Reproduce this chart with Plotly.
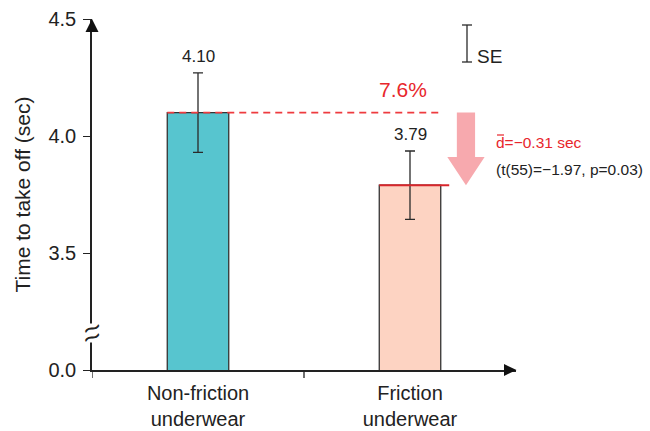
import plotly.graph_objects as go

# ---- data ----
categories = ["Non-friction<br>underwear", "Friction<br>underwear"]
means = [4.10, 3.79]
se = [0.17, 0.146]
value_labels = ["4.10", "3.79"]
bar_colors = ["#57c5cf", "#fdd3c2"]
y_tickvals = [3.0, 3.5, 4.0, 4.5]
y_ticktext = ["0.0", "3.5", "4.0", "4.5"]
t_stat_text = "(t(55)=\u22121.97, p=0.03)"

FONT = "Liberation Sans, Arial, sans-serif"
BW = 0.29
diff = means[1] - means[0]
pct = abs(diff) / means[0] * 100

fig = go.Figure()
fig.add_trace(go.Bar(
    x=[0, 1], y=means, width=BW,
    marker=dict(color=bar_colors, line=dict(color="#333333", width=1.3)),
    error_y=dict(type="data", array=se, color="#2a2a2a", thickness=1.3, width=5),
    hoverinfo="skip", showlegend=False,
))

shapes = []
ann = []

W, H = 424.0, 351.0
def px(x):
    return (x - 92) / W
def py(y):
    return (370 - y) / H

# value labels above error bars
for i, (m, s, lab) in enumerate(zip(means, se, value_labels)):
    ann.append(dict(x=i, y=m + s, text=lab, showarrow=False, yanchor="bottom", yshift=5,
                    font=dict(family=FONT, size=17, color="#222222")))

# red dashed reference line at first mean
shapes.append(dict(type="line", xref="x", yref="y", x0=-BW / 2, x1=1 + BW / 2 + 0.005,
                   y0=means[0], y1=means[0], line=dict(color="#ee3b3f", width=1.6, dash="7px,5px")))
# red solid line at second bar top
shapes.append(dict(type="line", xref="x", yref="y", x0=1 - BW / 2, x1=1 + BW / 2 + 0.04,
                   y0=means[1], y1=means[1], line=dict(color="#d8262c", width=2)))

# pink arrow from mean0 down to mean1
xc = 1.264
sh_w = 0.043
hd_w = 0.088
head_len = 0.12
p = (f"M {xc - sh_w} {means[0]} L {xc + sh_w} {means[0]} L {xc + sh_w} {means[1] + head_len} "
     f"L {xc + hd_w} {means[1] + head_len} L {xc} {means[1]} L {xc - hd_w} {means[1] + head_len} "
     f"L {xc - sh_w} {means[1] + head_len} Z")
shapes.append(dict(type="path", xref="x", yref="y", path=p, fillcolor="#f7a9ae", line=dict(width=0)))

# percentage text
ann.append(dict(x=0.967, y=4.197, text=f"{pct:.1f}%", showarrow=False,
                font=dict(family=FONT, size=21, color="#e8262c")))
# d-bar text
ann.append(dict(xref="paper", x=px(494), y=3.973, xanchor="left", text=f"d=\u2212{abs(diff):.2f} sec",
                showarrow=False, font=dict(family=FONT, size=15.5, color="#e8262c")))
shapes.append(dict(type="line", xref="paper", yref="paper", x0=px(497), x1=px(504), y0=py(135), y1=py(135),
                   line=dict(color="#e8262c", width=1.2)))
ann.append(dict(xref="paper", x=px(494), y=3.855, xanchor="left", text=t_stat_text, showarrow=False,
                font=dict(family=FONT, size=15.5, color="#222222")))

# SE legend glyph
shapes.append(dict(type="line", xref="paper", yref="paper", x0=px(467), x1=px(467), y0=py(25), y1=py(62),
                   line=dict(color="#2a2a2a", width=1.3)))
for yy in (25, 62):
    shapes.append(dict(type="line", xref="paper", yref="paper", x0=px(462), x1=px(472), y0=py(yy), y1=py(yy),
                       line=dict(color="#2a2a2a", width=1.3)))
ann.append(dict(xref="paper", yref="paper", x=px(475), y=py(44), xanchor="left", text="SE", showarrow=False,
                font=dict(family=FONT, size=19, color="#222222")))

# axis arrows
shapes.append(dict(type="path", xref="paper", yref="paper",
                   path=f"M {px(85.5)} {py(32)} L {px(92)} {py(19)} L {px(98.5)} {py(32)} Z",
                   fillcolor="#111111", line=dict(width=0)))
shapes.append(dict(type="path", xref="paper", yref="paper",
                   path=f"M {px(504)} {py(364)} L {px(516.5)} {py(370)} L {px(504)} {py(376)} Z",
                   fillcolor="#111111", line=dict(width=0)))

# axis break symbol: white mask + two tildes
ann.append(dict(xref="paper", yref="paper", x=0, y=py(333), xanchor="center", yanchor="middle",
                text=" ", showarrow=False, width=6, height=18, bgcolor="white", borderpad=0,
                font=dict(size=10)))
for dy in (-5, 4):
    ann.append(dict(xref="paper", yref="paper", x=0, y=py(333 + dy), xanchor="center", yanchor="middle",
                    text="~", showarrow=False, textangle=-20,
                    font=dict(family="DejaVu Sans", size=24, color="#222222")))

fig.update_layout(
    width=650, height=431,
    margin=dict(l=92, r=134, t=19, b=61, autoexpand=False),
    plot_bgcolor="white", paper_bgcolor="white",
    font=dict(family=FONT, color="#222222"),
    shapes=shapes, annotations=ann,
    xaxis=dict(range=[-0.5, 1.5], tickvals=[0, 1], ticktext=categories, showline=True,
               linecolor="#222222", linewidth=1.5, ticks="", showgrid=False, zeroline=False,
               automargin=False, ticklabelstandoff=4,
               tickfont=dict(family=FONT, size=20, color="#222222")),
    yaxis=dict(range=[3.0, 4.5], tickvals=y_tickvals, ticktext=y_ticktext, showline=True,
               linecolor="#222222", linewidth=1.5, ticks="outside", ticklen=7, tickwidth=1.3,
               tickcolor="#222222", showgrid=False, zeroline=False, automargin=False,
               ticklabelstandoff=3,
               tickfont=dict(family=FONT, size=20, color="#222222"),
               title=dict(text="Time to take off (sec)", font=dict(family=FONT, size=21, color="#222222"),
                          standoff=12)),
)

# boundary ticks on x axis (between categories)
for xb in (-0.5, 0.5):
    fig.add_shape(type="line", xref="x", yref="paper", x0=xb, x1=xb, y0=0, y1=-8 / H,
                  line=dict(color="#222222", width=1.3))

fig.write_html("out.html", config={"displayModeBar": False},
               post_script="document.body.style.margin='0';document.body.style.overflow='hidden';")
